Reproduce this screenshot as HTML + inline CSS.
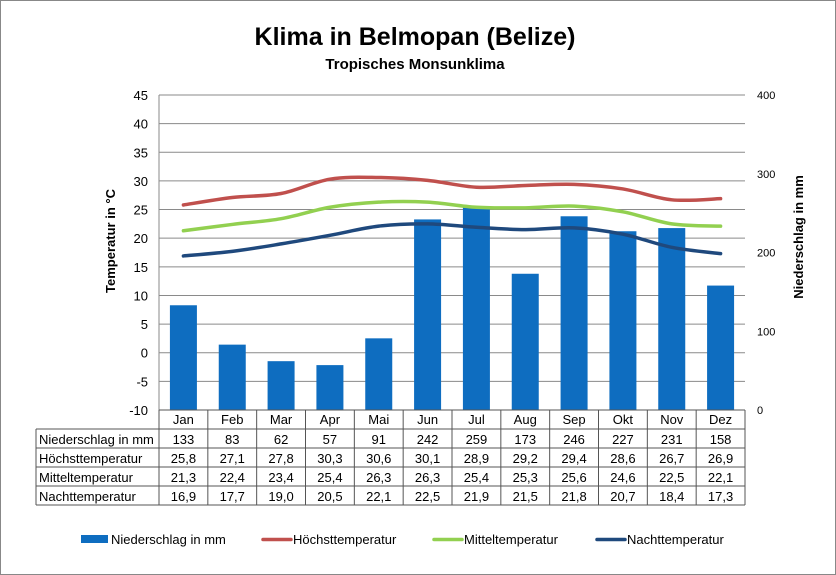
<!DOCTYPE html>
<html><head><meta charset="utf-8"><style>
body{margin:0;background:#fff}
svg{display:block;font-family:"Liberation Sans",sans-serif}
</style></head><body>
<svg id="s" width="836" height="575" viewBox="0 0 836 575" xmlns="http://www.w3.org/2000/svg">
<rect x="0.5" y="0.5" width="835" height="574" fill="#fff" stroke="#888"/>
<text x="415" y="45" font-size="25" font-weight="bold" text-anchor="middle">Klima in Belmopan (Belize)</text>
<text x="415" y="69" font-size="15" font-weight="bold" text-anchor="middle">Tropisches Monsunklima</text>
<text transform="translate(115,241) rotate(-90)" font-size="13" font-weight="bold" text-anchor="middle">Temperatur in °C</text>
<text transform="translate(803,237) rotate(-90)" font-size="13" font-weight="bold" text-anchor="middle">Niederschlag in mm</text>
<g id="g"></g>
</svg>
<script>
const L=159,R=745,T=95,B=410,W=(R-L)/12;
const m=["Jan","Feb","Mar","Apr","Mai","Jun","Jul","Aug","Sep","Okt","Nov","Dez"];
const p=[133,83,62,57,91,242,259,173,246,227,231,158];
const h=[25.8,27.1,27.8,30.3,30.6,30.1,28.9,29.2,29.4,28.6,26.7,26.9];
const mi=[21.3,22.4,23.4,25.4,26.3,26.3,25.4,25.3,25.6,24.6,22.5,22.1];
const n=[16.9,17.7,19.0,20.5,22.1,22.5,21.9,21.5,21.8,20.7,18.4,17.3];
const ty=v=>B-(v+10)*(B-T)/55, py=v=>B-v*(B-T)/400;
let s="";
for(let i=0;i<=11;i++){const y=T+i*(B-T)/11;s+=`<line x1="${L}" x2="${R}" y1="${y}" y2="${y}" stroke="#8a8a8a"/>`;s+=`<text x="148" y="${y+5}" font-size="13" text-anchor="end">${45-5*i}</text>`;}
for(let i=0;i<=4;i++){const y=B-i*(B-T)/4;s+=`<text x="757" y="${y+4}" font-size="11">${i*100}</text>`;}
s+=`<line x1="${L}" x2="${L}" y1="${T}" y2="${B}" stroke="#8a8a8a"/>`;
p.forEach((v,i)=>{const x=L+i*W+W/2;s+=`<rect x="${x-13.5}" y="${py(v)}" width="27" height="${B-py(v)}" fill="#0e6dc0"/>`;});
function curve(a,c){const pts=a.map((v,i)=>[L+i*W+W/2,ty(v)]);let d=`M${pts[0]}`;for(let i=0;i<pts.length-1;i++){const p0=pts[i-1]||pts[i],p1=pts[i],p2=pts[i+1],p3=pts[i+2]||p2;const c1=[p1[0]+(p2[0]-p0[0])/6,p1[1]+(p2[1]-p0[1])/6],c2=[p2[0]-(p3[0]-p1[0])/6,p2[1]-(p3[1]-p1[1])/6];d+=` C${c1} ${c2} ${p2}`;}return `<path d="${d}" fill="none" stroke="${c}" stroke-width="3.5" stroke-linecap="round"/>`;}
s+=curve(h,"#c0504d")+curve(mi,"#92d050")+curve(n,"#1f497d");
// table
const rows=[["Niederschlag in mm",p.map(String)],["Höchsttemperatur",h],["Mitteltemperatur",mi],["Nachttemperatur",n]];
const ry=[410,429,448,467,486,505];
s+=`<g stroke="#555" stroke-width="1" fill="none"><line x1="${L}" x2="${R}" y1="410" y2="410"/>`;
for(let k=1;k<6;k++)s+=`<line x1="36" x2="${R}" y1="${ry[k]}" y2="${ry[k]}"/>`;
s+=`<line x1="36" x2="36" y1="429" y2="505"/>`;
for(let i=0;i<=12;i++){const x=L+i*W;s+=`<line x1="${x}" x2="${x}" y1="410" y2="505"/>`;}
s+=`</g>`;
m.forEach((t,i)=>{s+=`<text x="${L+i*W+W/2}" y="424" font-size="13" text-anchor="middle">${t}</text>`;});
rows.forEach((r,k)=>{const y=ry[k+1]+15;s+=`<text x="39" y="${y}" font-size="13">${r[0]}</text>`;r[1].forEach((v,i)=>{const t=typeof v=="number"?v.toFixed(1).replace(".",","):v;s+=`<text x="${L+i*W+W/2}" y="${y}" font-size="13" text-anchor="middle">${t}</text>`;});});
// legend
const lg=[[81,"#0e6dc0","Niederschlag in mm",1],[263,"#c0504d","Höchsttemperatur",0],[434,"#92d050","Mitteltemperatur",0],[597,"#1f497d","Nachttemperatur",0]];
lg.forEach(([x,c,t,b])=>{if(b)s+=`<rect x="${x}" y="535" width="27" height="8" fill="${c}"/>`;else s+=`<line x1="${x}" x2="${x+28}" y1="539.5" y2="539.5" stroke="${c}" stroke-width="3.5" stroke-linecap="round"/>`;s+=`<text x="${x+30}" y="544" font-size="13">${t}</text>`;});
document.getElementById("g").innerHTML=s;
</script>
</body></html>
